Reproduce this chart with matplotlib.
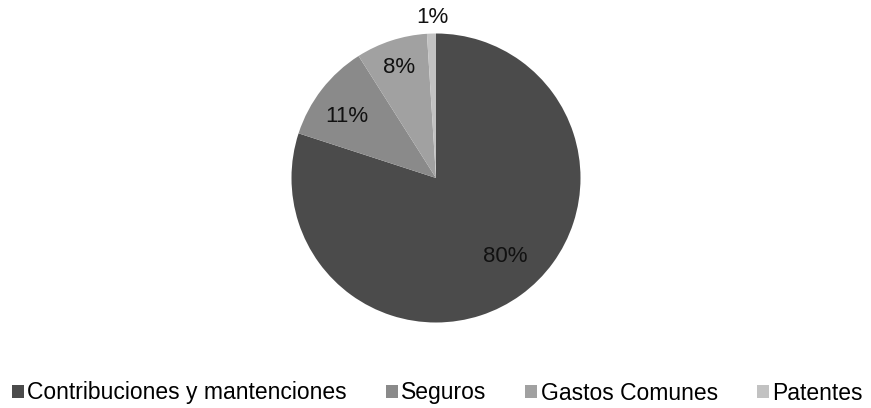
import matplotlib
matplotlib.use("Agg")
import matplotlib.pyplot as plt
import numpy as np

# ── Data ────────────────────────────────────────────────────────────────────
categories = ["Contribuciones y mantenciones", "Seguros", "Gastos Comunes", "Patentes"]
shares     = [80, 11, 8, 1]
labels     = ["80%", "11%", "8%", "1%"]
colors     = ["#4b4b4b", "#8a8a8a", "#a1a1a1", "#c2c2c2"]

# label placement (style): radius fraction and angle nudge in degrees
label_r     = [0.726, 0.753, 0.806, 1.111]
label_shift = [5.5, 3.1, 0.3, -0.4]

plt.rcParams["font.family"] = ["Liberation Sans", "DejaVu Sans"]

W, H = 871, 408
fig = plt.figure(figsize=(W / 100, H / 100), dpi=100)

# pie centre / radius in pixels
cx, cy, r = 436, 178, 144.5
ax = fig.add_axes([(cx - r) / W, (H - cy - r) / H, 2 * r / W, 2 * r / H])

wedges, _ = ax.pie(shares, colors=colors, startangle=90, counterclock=False,
                   radius=1.0, wedgeprops=dict(linewidth=0))
ax.set_xlim(-1, 1); ax.set_ylim(-1, 1)
ax.set_aspect("equal")
ax.axis("off")

# ── Percentage labels ───────────────────────────────────────────────────────
for w, lab, lr, sh in zip(wedges, labels, label_r, label_shift):
    ang = np.deg2rad((w.theta1 + w.theta2) / 2 + sh)
    ax.text(lr * np.cos(ang), lr * np.sin(ang), lab, ha="center", va="center",
            fontsize=16, color="#111111")

# ── Legend ──────────────────────────────────────────────────────────────────
fig.legend(wedges, categories, loc="center", bbox_to_anchor=(0.502, 1 - 393 / H),
           ncol=4, frameon=False, fontsize=16.5, handlelength=0.52, handleheight=0.52,
           handletextpad=0.15, columnspacing=1.7, borderaxespad=0, borderpad=0)

fig.savefig("out.png", dpi=100)
